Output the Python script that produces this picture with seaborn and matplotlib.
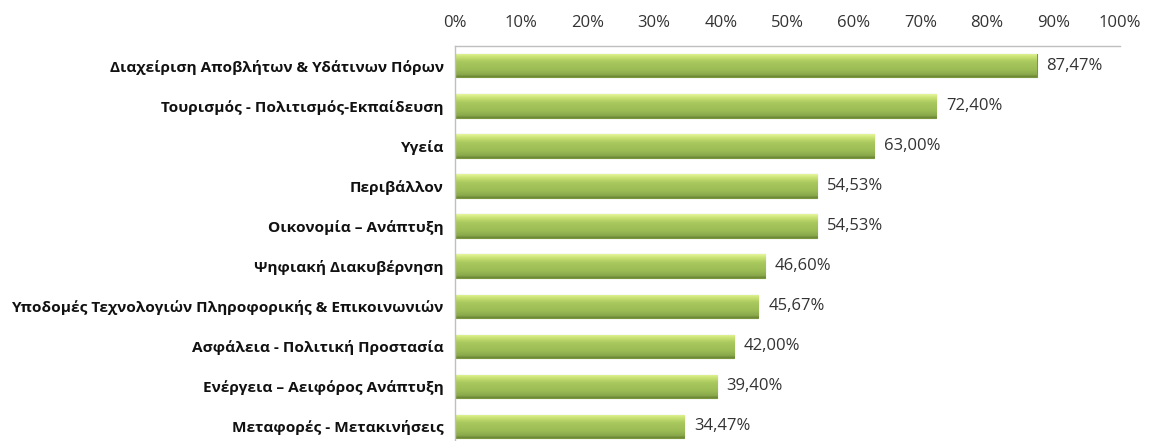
import numpy as np
import pandas as pd
import matplotlib
matplotlib.use("Agg")
import matplotlib.pyplot as plt
from matplotlib.colors import LinearSegmentedColormap
import seaborn as sns

# Δεδομένα
categories = [
    "Διαχείριση Αποβλήτων & Υδάτινων Πόρων",
    "Τουρισμός - Πολιτισμός-Εκπαίδευση",
    "Υγεία",
    "Περιβάλλον",
    "Οικονομία – Ανάπτυξη",
    "Ψηφιακή Διακυβέρνηση",
    "Υποδομές Τεχνολογιών Πληροφορικής & Επικοινωνιών",
    "Ασφάλεια - Πολιτική Προστασία",
    "Ενέργεια – Αειφόρος Ανάπτυξη",
    "Μεταφορές - Μετακινήσεις",
]
values = [87.47, 72.40, 63.00, 54.53, 54.53, 46.60, 45.67, 42.00, 39.40, 34.47]
xticks = list(range(0, 101, 10))

df = pd.DataFrame({"cat": categories, "val": values})

sns.set_theme(style="white")
plt.rcParams["font.family"] = ["Open Sans", "DejaVu Sans"]

fig = plt.figure(figsize=(11.51, 4.41), dpi=100)
ax = fig.add_axes([0.395, -0.012, 0.578, 0.908])

sns.barplot(data=df, x="val", y="cat", orient="h", color="#9bbb59",
            width=0.58, ax=ax, edgecolor="#7a963f", linewidth=0.8)

# gradient imitation of the 3D bar look
cmap = LinearSegmentedColormap.from_list(
    "g", [(0.0, "#e4f59a"), (0.15, "#c9e273"), (0.35, "#a9c85e"),
          (0.7, "#9bbb55"), (0.9, "#8aa94b"), (1.0, "#6a8534")])
grad = np.linspace(0, 1, 64).reshape(-1, 1)
for p in ax.patches:
    x0, y0 = p.get_x(), p.get_y()
    w, h = p.get_width(), p.get_height()
    im = ax.imshow(grad, cmap=cmap, aspect="auto",
                   extent=(x0, x0 + w, y0 + h, y0), zorder=p.get_zorder() + 0.1)
    im.set_clip_path(p)

ax.set_xlim(0, 100)
ax.set_ylim(len(categories) - 0.5, -0.5)
ax.xaxis.tick_top()
ax.set_xticks(xticks)
ax.set_xticklabels([f"{t}%" for t in xticks], fontsize=12, color="#333333")
ax.tick_params(axis="x", length=0, pad=11)
ax.tick_params(axis="y", length=0, pad=8)
ax.set_yticklabels(categories, fontsize=11.1, fontweight="bold", color="#111111")
ax.set_xlabel("")
ax.set_ylabel("")

for i, v in enumerate(values):
    ax.text(v + 1.5, i, f"{v:.2f}%".replace(".", ","), va="center", ha="left",
            fontsize=12, color="#333333")

for s in ["right", "bottom"]:
    ax.spines[s].set_visible(False)
for s in ["left", "top"]:
    ax.spines[s].set_color("#bfbfbf")
    ax.spines[s].set_linewidth(1)

fig.savefig("out.png", dpi=100)
